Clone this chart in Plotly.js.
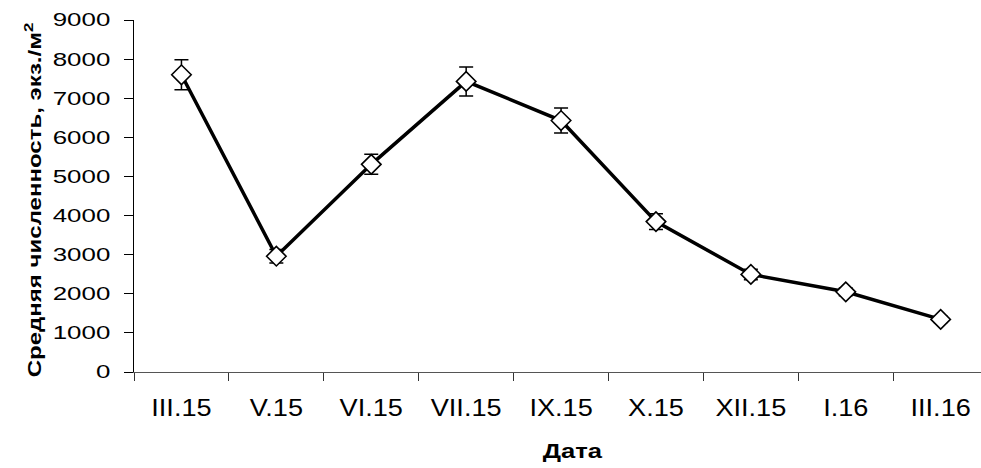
<!DOCTYPE html>
<html>
<head>
<meta charset="utf-8">
<script src="https://cdn.plot.ly/plotly-3.0.1.min.js"></script>
<style>
html,body{margin:0;padding:0;background:#fff;}
#chart{width:981px;height:468px;}
</style>
</head>
<body>
<div id="chart"></div>
<script>
const categories = ["III.15","V.15","VI.15","VII.15","IX.15","X.15","XII.15","I.16","III.16"];
const meanValues = [7600, 2960, 5310, 7430, 6430, 3845, 2495, 2050, 1345];
const errorValues = [385, 170, 255, 370, 320, 200, 135, 100, 80];
const yTickValues = [0,1000,2000,3000,4000,5000,6000,7000,8000,9000];

const lineTrace = {
  x: categories,
  y: meanValues,
  type: "scatter",
  mode: "lines",
  line: {color: "#000", width: 3.5},
  error_y: {type: "data", array: errorValues, visible: true, color: "#000", thickness: 1.5, width: 7},
  hoverinfo: "skip",
  showlegend: false
};
const markerTrace = {
  x: categories,
  y: meanValues,
  type: "scatter",
  mode: "markers",
  marker: {symbol: "diamond", size: 15, color: "#fff", line: {color: "#000", width: 1.6}},
  showlegend: false
};

const layout = {
  width: 981,
  height: 468,
  margin: {l: 134, r: 0, t: 20, b: 96, pad: 0},
  paper_bgcolor: "#fff",
  plot_bgcolor: "#fff",
  font: {family: "Liberation Sans, Arial, sans-serif", color: "#000", size: 19},
  xaxis: {
    type: "category",
    range: [-0.5, 8.425],
    showgrid: false,
    zeroline: false,
    showline: true,
    linecolor: "#555",
    linewidth: 1,
    ticks: "outside",
    tickson: "boundaries",
    ticklen: 8,
    tickcolor: "#333",
    tickfont: {size: 23},
    ticklabelstandoff: 15,
    title: {text: "<b>Дата</b>", font: {size: 20}, standoff: 24}
  },
  yaxis: {
    range: [0, 9000],
    tickvals: yTickValues,
    showgrid: false,
    zeroline: false,
    showline: true,
    linecolor: "#000",
    linewidth: 1,
    ticks: "outside",
    ticklen: 9,
    tickcolor: "#000",
    tickfont: {size: 18.5},
    ticklabelstandoff: 10,
    title: {text: "<b>Средняя численность, экз./м<sup>2</sup></b>", font: {size: 18.5}, standoff: 22}
  }
};

function stretchText(selector, scale, anchor, dx, dy) {
  document.querySelectorAll(selector).forEach(function (t) {
    const b = t.getBBox();
    const ax = anchor === "end" ? b.x + b.width : b.x + b.width / 2;
    const ay = b.y + b.height / 2;
    const tr = t.getAttribute("transform") || "";
    t.setAttribute("transform",
      tr + " translate(" + dx + "," + dy + ") translate(" + ax + "," + ay + ") scale(" + scale + ",1) translate(" + (-ax) + "," + (-ay) + ")");
  });
}

Plotly.newPlot("chart", [lineTrace, markerTrace], layout, {displayModeBar: false, staticPlot: true}).then(function () {
  stretchText("#chart .ytick text", 1.40, "end", 0, 0);
  stretchText("#chart .xtick text", 1.18, "middle", 0, 0);
  stretchText("#chart .g-xtitle text", 1.28, "middle", 15, 0);
  stretchText("#chart .g-ytitle text", 1.30, "middle", -4, 0);
});
</script>
</body>
</html>
